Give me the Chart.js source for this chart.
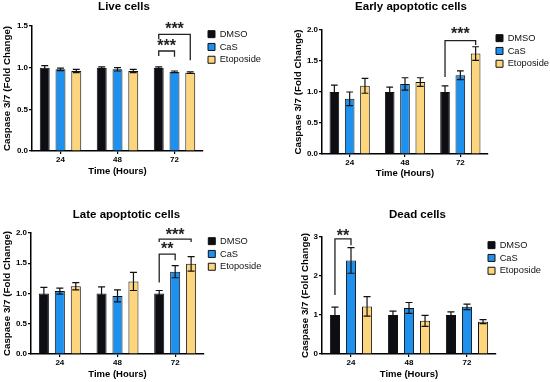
<!DOCTYPE html>
<html>
<head>
<meta charset="utf-8">
<script src="https://cdn.jsdelivr.net/npm/chart.js@4.4.0/dist/chart.umd.min.js"></script>
<style>
  html, body { margin: 0; padding: 0; background: #fff; }
  #wrap { position: relative; width: 550px; height: 382px; }
  .panel { position: absolute; width: 275px; height: 191px; }
</style>
</head>
<body>
<div id="wrap">
  <div class="panel" style="left:0;top:0"><canvas id="live" width="275" height="191"></canvas></div>
  <div class="panel" style="left:275px;top:0"><canvas id="early" width="275" height="191"></canvas></div>
  <div class="panel" style="left:0;top:191px"><canvas id="late" width="275" height="191"></canvas></div>
  <div class="panel" style="left:275px;top:191px"><canvas id="dead" width="275" height="191"></canvas></div>
</div>
<script>
const categories = ['24', '48', '72'];
const groups = ['DMSO', 'CaS', 'Etoposide'];

// one row per group: DMSO, CaS, Etoposide
const liveMeans = [[1.00, 1.00, 1.00], [0.98, 0.98, 0.95], [0.96, 0.96, 0.94]];
const liveErrs = [[0.025, 0.01, 0.01], [0.015, 0.02, 0.01], [0.02, 0.02, 0.01]];

const earlyMeans = [[1.00, 1.00, 1.00], [0.89, 1.13, 1.27], [1.10, 1.16, 1.62]];
const earlyErrs = [[0.11, 0.08, 0.10], [0.11, 0.10, 0.07], [0.12, 0.07, 0.11]];

const lateMeans = [[1.00, 1.00, 1.00], [1.04, 0.96, 1.36], [1.12, 1.20, 1.49]];
const lateErrs = [[0.10, 0.11, 0.05], [0.05, 0.10, 0.10], [0.06, 0.15, 0.12]];

const deadMeans = [[1.00, 1.00, 1.00], [2.40, 1.18, 1.21], [1.22, 0.85, 0.83]];
const deadErrs = [[0.20, 0.10, 0.08], [0.33, 0.14, 0.07], [0.25, 0.14, 0.05]];

// significance: [category, fromGroup, toGroup, bracketY, leftLegY, rightLegY, starsY, label]
const liveSig = [[2, 0, 1, 1.20, 1.14, 1.13, 1.30, '***'], [2, 0, 2, 1.40, 1.34, 1.09, 1.50, '***']];
const earlySig = [[2, 0, 2, 1.83, 1.24, 1.76, 1.98, '***']];
const lateSig = [[2, 0, 1, 1.65, 1.18, 1.55, 1.79, '**'], [2, 0, 2, 1.90, 1.85, 1.85, 2.02, '***']];
const deadSig = [[0, 0, 1, 2.95, 1.51, 2.79, 3.09, '**']];

const colors = ['#0d0d14', '#1e90ee', '#fdd57c'];
const FONT = '"Liberation Sans", Arial, Helvetica, sans-serif';
Chart.defaults.font.family = FONT;
Chart.defaults.color = '#000';

const errorBars = {
  id: 'errorBars',
  afterDatasetsDraw(chart) {
    const ctx = chart.ctx, y = chart.scales.y;
    ctx.save();
    ctx.strokeStyle = '#111';
    ctx.lineWidth = 1.2;
    chart.data.datasets.forEach((ds, i) => {
      chart.getDatasetMeta(i).data.forEach((bar, j) => {
        const top = y.getPixelForValue(ds.data[j] + ds.errors[j]);
        const bot = y.getPixelForValue(ds.data[j] - ds.errors[j]);
        const half = bar.width * 0.35;
        ctx.beginPath();
        ctx.moveTo(bar.x, top); ctx.lineTo(bar.x, bot);
        ctx.moveTo(bar.x - half, top); ctx.lineTo(bar.x + half, top);
        ctx.moveTo(bar.x - half, bot); ctx.lineTo(bar.x + half, bot);
        ctx.stroke();
      });
    });
    ctx.restore();
  }
};

const brackets = {
  id: 'brackets',
  afterDraw(chart, args, opts) {
    const ctx = chart.ctx, y = chart.scales.y;
    ctx.save();
    ctx.strokeStyle = '#222';
    ctx.fillStyle = '#222';
    ctx.lineWidth = 1.3;
    (opts.items || []).forEach(([cat, a, b, yb, ya, yr, ys, label]) => {
      const xa = chart.getDatasetMeta(a).data[cat].x;
      const xb = chart.getDatasetMeta(b).data[cat].x;
      const py = y.getPixelForValue(yb);
      ctx.beginPath();
      ctx.moveTo(xa, y.getPixelForValue(ya));
      ctx.lineTo(xa, py);
      ctx.lineTo(xb, py);
      ctx.lineTo(xb, y.getPixelForValue(yr));
      ctx.stroke();
      ctx.font = 'bold 16px ' + FONT;
      ctx.textAlign = 'center';
      ctx.textBaseline = 'alphabetic';
      ctx.fillText(label, (xa + xb) / 2, y.getPixelForValue(ys) + 8);
    });
    ctx.restore();
  }
};

// small horizontal shifts for title and legend
const nudge = {
  id: 'nudge',
  afterLayout(chart, args, opts) {
    if (chart.titleBlock) { chart.titleBlock.left += opts.title; chart.titleBlock.right += opts.title; }
    if (chart.legend) { chart.legend.left += opts.legend; chart.legend.right += opts.legend; }
  }
};

function makeChart(id, title, means, errs, sig, p) {
  return new Chart(document.getElementById(id), {
    type: 'bar',
    data: {
      labels: categories,
      datasets: groups.map((g, k) => ({
        label: g,
        data: means[k],
        errors: errs[k],
        backgroundColor: colors[k],
        borderColor: '#111',
        borderWidth: 1,
        categoryPercentage: 0.83,
        barPercentage: 0.63
      }))
    },
    options: {
      responsive: false,
      animation: false,
      devicePixelRatio: 1,
      layout: { padding: { left: 0, top: 0, right: p.right, bottom: p.bottom } },
      plugins: {
        title: {
          display: true, text: title, fullSize: false, color: '#000',
          font: { size: 11.5, weight: 'bold' },
          padding: { top: p.titleTop, bottom: p.titleBottom }
        },
        legend: {
          position: 'right', align: 'start', fullSize: false, maxWidth: 58,
          labels: { boxWidth: 7, boxHeight: 7, padding: 3.5, color: '#111', font: { size: 9.3 } }
        },
        tooltip: { enabled: false },
        brackets: { items: sig },
        nudge: { title: p.titleDx, legend: p.legendDx }
      },
      scales: {
        x: {
          grid: { offset: false, drawOnChartArea: false, tickLength: 3, color: '#000', lineWidth: 1.2 },
          border: { color: '#000', width: 1.5 },
          ticks: { font: { size: 8, weight: 'bold' }, color: '#000', padding: 1 },
          title: { display: true, text: 'Time (Hours)', color: '#000', font: { size: 9.5, weight: 'bold' }, padding: 0 },
          afterFit: s => { s.height = p.xH; }
        },
        y: {
          min: 0, max: p.yMax,
          grid: { drawOnChartArea: false, tickLength: 3, color: '#000', lineWidth: 1.2 },
          border: { color: '#000', width: 1.5 },
          ticks: { stepSize: p.step, font: { size: 8, weight: 'bold' }, color: '#000', padding: 1,
                   callback: v => v.toFixed(p.dec) },
          title: { display: true, text: 'Caspase 3/7 (Fold Change)', color: '#000',
                   font: { size: 9.8, weight: 'bold' }, padding: { top: p.yTitlePad, bottom: 0 } },
          afterFit: s => { s.width = p.yW; }
        }
      }
    },
    plugins: [errorBars, brackets, nudge]
  });
}

makeChart('live', 'Live cells', liveMeans, liveErrs, liveSig,
  { yMax: 1.5, step: 0.5, dec: 1, yW: 32, yTitlePad: 1.6, xH: 26, bottom: 14, right: 14,
    titleTop: 0.1, titleBottom: 12.1, titleDx: 6.5, legendDx: 1.5 });
makeChart('early', 'Early apoptotic cells', earlyMeans, earlyErrs, earlySig,
  { yMax: 2, step: 0.5, dec: 1, yW: 47, yTitlePad: 17.6, xH: 25, bottom: 12, right: 4,
    titleTop: 0.1, titleBottom: 16.1, titleDx: 6, legendDx: 4.5 });
makeChart('late', 'Late apoptotic cells', lateMeans, lateErrs, lateSig,
  { yMax: 2, step: 0.5, dec: 1, yW: 31, yTitlePad: 1.6, xH: 26, bottom: 2, right: 13,
    titleTop: 17.1, titleBottom: 11.1, titleDx: 9, legendDx: 0.8 });
makeChart('dead', 'Dead cells', deadMeans, deadErrs, deadSig,
  { yMax: 3, step: 1, dec: 0, yW: 47, yTitlePad: 24, xH: 26, bottom: 2, right: -4,
    titleTop: 17.1, titleBottom: 15.1, titleDx: 8.5, legendDx: -11.5 });
</script>
</body>
</html>
